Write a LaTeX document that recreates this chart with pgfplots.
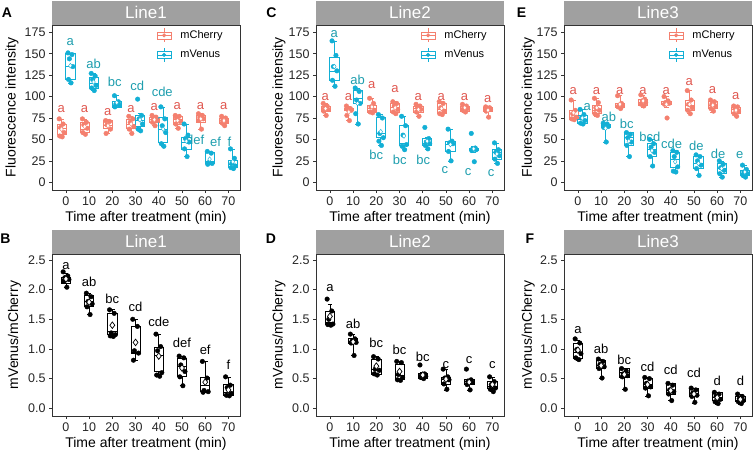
\documentclass[border=0pt]{standalone}
\usepackage{fontspec}
\setmainfont{Liberation Sans}
\usepackage{pgfplots}
\pgfplotsset{compat=1.18}
\usepgfplotslibrary{statistics}

\definecolor{cherry}{HTML}{F4806F}
\definecolor{cherrytxt}{HTML}{E0574F}
\definecolor{venus}{HTML}{12AFD5}
\definecolor{venustxt}{HTML}{1E9EAE}
\definecolor{stripgray}{HTML}{A0A0A0}

% box from prepared stats: colour, position, lw, q1, median, q3, uw
\newcommand{\bx}[7]{\addplot[#1,line width=0.65pt,forget plot,boxplot prepared={draw position=#2,lower whisker=#3,lower quartile=#4,median=#5,upper quartile=#6,upper whisker=#7,box extend=0.4,whisker extend=0.2}] coordinates {};}
\newcommand{\lab}[4]{\node[text=#1,inner sep=0.5pt,font=\fontsize{13}{13}\selectfont] at (axis cs:#2,#3) {#4};}

\pgfplotsset{
  panel/.style={
    scale only axis, width=188pt,
    xmin=-0.6, xmax=7.5,
    xtick={0,...,7}, xticklabels={0,10,20,30,40,50,60,70},
    tick pos=left, tick align=outside, major tick length=3pt,
    axis line style={black!80, line width=0.7pt},
    tick style={black!80, line width=0.6pt},
    /pgf/number format/assume math mode=true,
    tick label style={font=\fontsize{12.5}{12.5}\selectfont, text=black!85},
    label style={font=\fontsize{14}{14}\selectfont},
    xlabel={Time after treatment (min)},
    every axis title shift=0pt,
    title style={at={(0.5,1)}, anchor=south, fill=stripgray, text=white,
      minimum width=188pt, minimum height=24pt, inner sep=0pt,
      font=\fontsize{17}{17}\selectfont},
    boxplot/draw direction=y,
  },
  toprow/.style={
    height=165pt, ymin=-9, ymax=183.5, ytick={0,25,...,175},
    ylabel={Fluorescence intensity},
    xlabel style={at={(axis description cs:0.5,-0.17)}, anchor=center},
    legend style={at={(0.935,0.995)}, anchor=north east, draw=none, fill=none,
      font=\fontsize{11}{11}\selectfont, row sep=5pt, column sep=7pt},
    legend cell align=left,
  },
  botrow/.style={
    height=162pt, ymin=-0.13, ymax=2.6, ytick={0,0.5,...,2.5},
    yticklabel style={/pgf/number format/.cd, fixed, fixed zerofill, precision=1},
    ylabel={mVenus/mCherry},
    xlabel style={at={(axis description cs:0.5,-0.169)}, anchor=center},
  },
  cherryleg/.style={legend image code/.code={
    \draw[cherry,line width=0.6pt] (0pt,-3.5pt) rectangle (14pt,3.5pt)
      (7pt,3.5pt)--(7pt,7pt) (7pt,-3.5pt)--(7pt,-7pt) (0pt,0pt)--(14pt,0pt);
    \fill[cherry] (7pt,0pt) circle (1.8pt);}},
  venusleg/.style={legend image code/.code={
    \draw[venus,line width=0.6pt] (0pt,-3.5pt) rectangle (14pt,3.5pt)
      (7pt,3.5pt)--(7pt,7pt) (7pt,-3.5pt)--(7pt,-7pt) (0pt,0pt)--(14pt,0pt);
    \fill[venus] (7pt,0pt) circle (1.8pt);}},
  dots/.style={only marks, mark=*, mark size=2.3pt, mark options={solid}, forget plot},
  means/.style={only marks, mark=diamond*, mark size=2.4pt, mark options={solid, fill=white}, forget plot},
  bmeans/.style={only marks, mark=diamond*, mark size=3.3pt, mark options={solid, fill=white, draw=black, line width=0.7pt}, forget plot},
}

\begin{document}
\begin{tikzpicture}
\useasboundingbox (0pt,0pt) rectangle (754pt,451pt);

%% ---------------- A : Line1 fluorescence
\begin{axis}[panel, toprow, at={(52pt,261pt)}, anchor=south west, title={Line1},
  ylabel style={at={(axis description cs:-0.213,0.5)}, anchor=center}]
\bx{cherry}{-0.19}{53}{56}{63}{68}{74}
\bx{cherry}{0.81}{56}{58}{62}{70}{74}
\bx{cherry}{1.81}{57}{63}{67}{72}{73}
\bx{cherry}{2.81}{57}{63}{68}{74}{77}
\bx{cherry}{3.81}{66}{70}{73}{76}{78}
\bx{cherry}{4.81}{63}{68}{73}{77}{78}
\bx{cherry}{5.81}{62}{70}{74}{78}{80}
\bx{cherry}{6.81}{66}{69}{72}{75}{77}
\bx{venus}{0.19}{116}{120}{135}{150}{151}
\bx{venus}{1.19}{107}{110}{115}{123}{127}
\bx{venus}{2.19}{88}{88}{90}{94}{101}
\bx{venus}{3.19}{60}{65}{72}{78}{80}
\bx{venus}{4.19}{42}{47}{62}{76}{88}
\bx{venus}{5.19}{30}{39}{47}{53}{68}
\bx{venus}{6.19}{21}{22}{25}{35}{36}
\bx{venus}{7.19}{16}{18}{21}{26}{39}
\addplot[dots, cherry] coordinates {
(-0.29,74) (-0.12,68) (-0.23,64) (-0.08,58) (-0.27,54) (-0.16,53)
(0.71,74) (0.88,70) (0.77,67) (0.92,63) (0.73,58) (0.84,56)
(1.71,72) (1.88,71) (1.77,67) (1.92,62) (1.73,57)
(2.71,77) (2.88,74) (2.77,70) (2.92,65) (2.73,62) (2.84,57)
(3.71,78) (3.88,76) (3.77,74) (3.92,72) (3.73,70) (3.84,66)
(4.71,78) (4.88,77) (4.77,75) (4.92,71) (4.73,68) (4.84,63)
(5.71,80) (5.88,78) (5.77,76) (5.92,74) (5.73,72) (5.84,62)
(6.71,77) (6.88,75) (6.77,73) (6.92,71) (6.73,69) (6.84,66)};
\addplot[dots, venus] coordinates {
(0.09,151) (0.26,149) (0.15,144) (0.30,135) (0.11,120) (0.22,116)
(1.09,127) (1.26,124) (1.15,120) (1.30,113) (1.11,110) (1.22,107)
(2.09,101) (2.26,94) (2.15,91) (2.30,90) (2.11,88)
(3.09,97) (3.26,78) (3.15,74) (3.30,68) (3.11,62) (3.22,60)
(4.09,88) (4.26,74) (4.15,66) (4.30,58) (4.11,45) (4.22,42)
(5.09,68) (5.26,55) (5.15,51) (5.30,47) (5.11,39) (5.22,30)
(6.09,36) (6.26,34) (6.15,23) (6.30,22) (6.11,21)
(7.09,39) (7.26,28) (7.15,22) (7.30,19) (7.11,17) (7.22,16)};
\addplot[means, cherry] coordinates {(-0.19,62) (0.81,65) (1.81,66) (2.81,68) (3.81,73) (4.81,72) (5.81,74) (6.81,72)};
\addplot[means, venus] coordinates {(0.19,136) (1.19,117) (2.19,93) (3.19,73) (4.19,62) (5.19,48) (6.19,27) (7.19,24)};
\addlegendimage{cherryleg}\addlegendentry{mCherry}
\addlegendimage{venusleg}\addlegendentry{mVenus}
\lab{cherrytxt}{-0.2}{86}{a}\lab{cherrytxt}{0.8}{86}{a}\lab{cherrytxt}{1.8}{82}{a}\lab{cherrytxt}{2.8}{86}{a}
\lab{cherrytxt}{3.8}{88}{a}\lab{cherrytxt}{4.8}{89}{a}\lab{cherrytxt}{5.8}{89}{a}\lab{cherrytxt}{6.8}{89}{a}
\lab{venustxt}{0.19}{164}{a}\lab{venustxt}{1.19}{138}{ab}\lab{venustxt}{2.1}{117}{bc}\lab{venustxt}{3.07}{113}{cd}
\lab{venustxt}{4.15}{106}{cde}\lab{venustxt}{5.57}{49}{def}\lab{venustxt}{6.45}{47}{ef}\lab{venustxt}{7.05}{47}{f}
\end{axis}

%% ---------------- C : Line2 fluorescence
\begin{axis}[panel, toprow, at={(316pt,261pt)}, anchor=south west, title={Line2},
  ylabel style={at={(axis description cs:-0.197,0.5)}, anchor=center}]
\bx{cherry}{-0.19}{78}{83}{86}{89}{92}
\bx{cherry}{0.81}{72}{84}{85}{86}{89}
\bx{cherry}{1.81}{81}{82}{86}{90}{98}
\bx{cherry}{2.81}{80}{82}{87}{92}{94}
\bx{cherry}{3.81}{77}{82}{86}{89}{91}
\bx{cherry}{4.81}{79}{80}{85}{92}{94}
\bx{cherry}{5.81}{82}{83}{86}{89}{91}
\bx{cherry}{6.81}{76}{83}{85}{88}{88}
\bx{venus}{0.19}{112}{119}{129}{146}{165}
\bx{venus}{1.19}{68}{92}{98}{107}{110}
\bx{venus}{2.19}{43}{53}{57}{76}{79}
\bx{venus}{3.19}{38}{43}{46}{66}{77}
\bx{venus}{4.19}{39}{43}{46}{51}{52}
\bx{venus}{5.19}{25}{36}{44}{48}{62}
\bx{venus}{6.19}{35}{37}{38}{40}{42}
\bx{venus}{7.19}{22}{27}{35}{38}{46}
\addplot[dots, cherry] coordinates {
(-0.29,92) (-0.12,89) (-0.23,87) (-0.08,85) (-0.27,83) (-0.16,78)
(0.71,89) (0.88,86) (0.77,85) (0.92,84) (0.73,78) (0.84,72)
(1.71,98) (1.88,92) (1.77,88) (1.92,84) (1.73,82) (1.84,81)
(2.71,94) (2.88,92) (2.77,89) (2.92,85) (2.73,82) (2.84,80)
(3.71,91) (3.88,89) (3.77,87) (3.92,85) (3.73,82) (3.84,77)
(4.71,94) (4.88,92) (4.77,87) (4.92,83) (4.73,80) (4.84,79)
(5.71,91) (5.88,89) (5.77,87) (5.92,86) (5.73,84) (5.84,82)
(6.71,88) (6.88,87) (6.77,86) (6.92,85) (6.73,83) (6.84,76)};
\addplot[dots, venus] coordinates {
(0.09,165) (0.26,148) (0.15,135) (0.30,130) (0.11,119) (0.22,112)
(1.09,110) (1.26,106) (1.15,96) (1.30,92) (1.11,80) (1.22,68)
(2.09,79) (2.26,75) (2.15,57) (2.30,52) (2.11,48) (2.22,43)
(3.09,77) (3.26,66) (3.15,55) (3.30,44) (3.11,42) (3.22,38)
(4.09,64) (4.26,51) (4.15,47) (4.30,45) (4.11,43) (4.22,39)
(5.09,62) (5.26,48) (5.15,46) (5.30,45) (5.11,36) (5.22,25)
(6.09,57) (6.26,40) (6.15,39) (6.30,38) (6.11,37) (6.22,24)
(7.09,46) (7.26,38) (7.15,35) (7.30,31) (7.11,27) (7.22,22)};
\addplot[means, cherry] coordinates {(-0.19,86) (0.81,82) (1.81,88) (2.81,87) (3.81,85) (4.81,86) (5.81,87) (6.81,84)};
\addplot[means, venus] coordinates {(0.19,135) (1.19,92) (2.19,59) (3.19,54) (4.19,48) (5.19,44) (6.19,39) (7.19,33)};
\addlegendimage{cherryleg}\addlegendentry{mCherry}
\addlegendimage{venusleg}\addlegendentry{mVenus}
\lab{cherrytxt}{-0.2}{99.6}{a}\lab{cherrytxt}{0.8}{99.6}{a}\lab{cherrytxt}{1.8}{113}{a}\lab{cherrytxt}{2.8}{109}{a}
\lab{cherrytxt}{3.8}{99.6}{a}\lab{cherrytxt}{4.8}{99.6}{a}\lab{cherrytxt}{5.8}{99.6}{a}\lab{cherrytxt}{6.8}{97.6}{a}
\lab{venustxt}{0.19}{173}{a}\lab{venustxt}{1.19}{120}{ab}\lab{venustxt}{2.0}{31.5}{bc}\lab{venustxt}{3.01}{26.4}{bc}
\lab{venustxt}{4.02}{25.7}{bc}\lab{venustxt}{4.95}{14}{c}\lab{venustxt}{5.95}{12}{c}\lab{venustxt}{6.95}{11}{c}
\end{axis}

%% ---------------- E : Line3 fluorescence
\begin{axis}[panel, toprow, at={(564pt,261pt)}, anchor=south west, title={Line3},
  ylabel style={at={(axis description cs:-0.19,0.5)}, anchor=center}]
\bx{cherry}{-0.19}{72}{74}{76}{84}{96}
\bx{cherry}{0.81}{77}{80}{84}{90}{98}
\bx{cherry}{1.81}{86}{88}{89}{92}{101}
\bx{cherry}{2.81}{88}{90}{93}{97}{102}
\bx{cherry}{3.81}{88}{91}{92}{94}{100}
\bx{cherry}{4.81}{80}{84}{90}{96}{107}
\bx{cherry}{5.81}{82}{86}{90}{94}{96}
\bx{cherry}{6.81}{77}{80}{85}{88}{89}
\bx{venus}{0.19}{68}{69}{74}{78}{85}
\bx{venus}{1.19}{47}{64}{66}{68}{69}
\bx{venus}{2.19}{30}{43}{53}{58}{58}
\bx{venus}{3.19}{19}{30}{38}{45}{50}
\bx{venus}{4.19}{12}{18}{27}{35}{37}
\bx{venus}{5.19}{8}{16}{22}{30}{32}
\bx{venus}{6.19}{6}{10}{16}{22}{25}
\bx{venus}{7.19}{6}{8}{11}{14}{20}
\addplot[dots, cherry] coordinates {
(-0.29,96) (-0.12,84) (-0.23,80) (-0.08,76) (-0.27,74) (-0.16,73)
(0.71,98) (0.88,93) (0.77,87) (0.92,84) (0.73,80) (0.84,78)
(1.71,101) (1.88,92) (1.77,90) (1.92,89) (1.73,88) (1.84,86)
(2.71,102) (2.88,97) (2.77,95) (2.92,93) (2.73,91) (2.84,89)
(3.71,100) (3.88,95) (3.77,93) (3.92,92) (3.73,91) (3.84,75)
(4.71,107) (4.88,96) (4.77,91) (4.92,87) (4.73,84) (4.84,80)
(5.71,96) (5.88,94) (5.77,91) (5.92,89) (5.73,86) (5.84,83)
(6.71,89) (6.88,88) (6.77,86) (6.92,83) (6.73,80) (6.84,77)};
\addplot[dots, venus] coordinates {
(0.09,85) (0.26,79) (0.15,75) (0.30,72) (0.11,69) (0.22,68)
(1.09,69) (1.26,68) (1.15,66) (1.30,65) (1.11,64) (1.22,47)
(2.09,58) (2.26,56) (2.15,52) (2.30,47) (2.11,43) (2.22,30)
(3.09,50) (3.26,45) (3.15,41) (3.30,35) (3.11,30) (3.22,19)
(4.09,37) (4.26,35) (4.15,30) (4.30,18) (4.11,13) (4.22,12)
(5.09,32) (5.26,30) (5.15,25) (5.30,20) (5.11,16) (5.22,8)
(6.09,25) (6.26,21) (6.15,17) (6.30,14) (6.11,10) (6.22,6)
(7.09,20) (7.26,15) (7.15,12) (7.30,10) (7.11,8) (7.22,6)};
\addplot[means, cherry] coordinates {(-0.19,81) (0.81,87) (1.81,91) (2.81,95) (3.81,91) (4.81,91) (5.81,90) (6.81,84)};
\addplot[means, venus] coordinates {(0.19,75) (1.19,63) (2.19,48) (3.19,37) (4.19,24) (5.19,22) (6.19,16) (7.19,12)};
\addlegendimage{cherryleg}\addlegendentry{mCherry}
\addlegendimage{venusleg}\addlegendentry{mVenus}
\lab{cherrytxt}{-0.2}{107}{a}\lab{cherrytxt}{0.8}{107}{a}\lab{cherrytxt}{1.8}{107}{a}\lab{cherrytxt}{2.8}{107}{a}
\lab{cherrytxt}{3.8}{107}{a}\lab{cherrytxt}{4.8}{117}{a}\lab{cherrytxt}{5.8}{108}{a}\lab{cherrytxt}{6.8}{101}{a}
\lab{venustxt}{0.4}{88}{a}\lab{venustxt}{1.33}{76}{ab}\lab{venustxt}{2.1}{68}{bc}\lab{venustxt}{3.1}{53}{bcd}
\lab{venustxt}{4.04}{45}{cde}\lab{venustxt}{5.1}{43}{de}\lab{venustxt}{6.04}{33}{de}\lab{venustxt}{6.97}{31.5}{e}
\end{axis}

%% ---------------- B : Line1 ratio
\begin{axis}[panel, botrow, at={(52pt,35pt)}, anchor=south west, title={Line1},
  ylabel style={at={(axis description cs:-0.2,0.5)}, anchor=center}]
\bx{black}{0}{2.04}{2.11}{2.17}{2.20}{2.28}
\bx{black}{1}{1.58}{1.71}{1.80}{1.90}{1.94}
\bx{black}{2}{1.21}{1.24}{1.30}{1.60}{1.66}
\bx{black}{3}{0.81}{0.93}{0.95}{1.38}{1.50}
\bx{black}{4}{0.54}{0.62}{0.90}{1.02}{1.25}
\bx{black}{5}{0.38}{0.54}{0.70}{0.85}{0.88}
\bx{black}{6}{0.27}{0.29}{0.38}{0.53}{0.79}
\bx{black}{7}{0.21}{0.22}{0.27}{0.40}{0.53}
\addplot[dots, black] coordinates {
(-0.12,2.30) (0.08,2.23) (-0.05,2.20) (0.13,2.17) (-0.09,2.14) (0.04,2.04)
(0.88,1.94) (1.08,1.88) (0.95,1.80) (1.13,1.76) (0.91,1.71) (1.04,1.58)
(1.88,1.66) (2.08,1.60) (1.95,1.27) (2.13,1.24) (1.91,1.22) (2.04,1.21)
(2.88,1.50) (3.08,1.38) (2.95,0.97) (3.13,0.93) (2.91,0.81)
(3.88,1.25) (4.08,1.04) (3.95,0.97) (4.13,0.60) (3.91,0.56) (4.04,0.54)
(4.88,0.88) (5.08,0.85) (4.95,0.73) (5.13,0.62) (4.91,0.53) (5.04,0.38)
(5.88,0.79) (6.08,0.51) (5.95,0.30) (6.13,0.28) (5.91,0.27)
(6.88,0.53) (7.08,0.39) (6.95,0.35) (7.13,0.25) (6.91,0.22) (7.04,0.21)};
\addplot[bmeans] coordinates {(0,2.18) (1,1.79) (2,1.40) (3,1.11) (4,0.88) (5,0.68) (6,0.44) (7,0.31)};
\lab{black}{0}{2.39}{a}\lab{black}{1}{2.13}{ab}\lab{black}{2}{1.84}{bc}\lab{black}{3}{1.71}{cd}
\lab{black}{4}{1.46}{cde}\lab{black}{5}{1.10}{def}\lab{black}{6}{0.98}{ef}\lab{black}{7}{0.73}{f}
\end{axis}

%% ---------------- D : Line2 ratio
\begin{axis}[panel, botrow, at={(316pt,35pt)}, anchor=south west, title={Line2},
  ylabel style={at={(axis description cs:-0.197,0.5)}, anchor=center}]
\bx{black}{0}{1.40}{1.42}{1.45}{1.64}{1.75}
\bx{black}{1}{0.89}{1.10}{1.13}{1.18}{1.25}
\bx{black}{2}{0.56}{0.58}{0.65}{0.83}{0.87}
\bx{black}{3}{0.47}{0.48}{0.55}{0.74}{0.79}
\bx{black}{4}{0.49}{0.51}{0.55}{0.59}{0.60}
\bx{black}{5}{0.31}{0.40}{0.49}{0.53}{0.66}
\bx{black}{6}{0.31}{0.40}{0.45}{0.48}{0.49}
\bx{black}{7}{0.28}{0.33}{0.37}{0.46}{0.53}
\addplot[dots, black] coordinates {
(-0.12,1.84) (0.08,1.64) (-0.05,1.50) (0.13,1.42) (-0.09,1.41) (0.04,1.40)
(0.88,1.25) (1.08,1.17) (0.95,1.13) (1.13,1.11) (0.91,1.10) (1.04,0.89)
(1.88,0.87) (2.08,0.83) (1.95,0.66) (2.13,0.64) (1.91,0.58) (2.04,0.56)
(2.88,0.79) (3.08,0.77) (2.95,0.57) (3.13,0.52) (2.91,0.48) (3.04,0.47)
(3.88,0.73) (4.08,0.58) (3.95,0.56) (4.13,0.54) (3.91,0.52) (4.04,0.50)
(4.88,0.66) (5.08,0.53) (4.95,0.51) (5.13,0.48) (4.91,0.41) (5.04,0.32)
(5.88,0.66) (6.08,0.48) (5.95,0.46) (6.13,0.44) (5.91,0.40) (6.04,0.31)
(6.88,0.53) (7.08,0.45) (6.95,0.40) (7.13,0.34) (6.91,0.32) (7.04,0.28)};
\addplot[bmeans] coordinates {(0,1.55) (1,1.12) (2,0.71) (3,0.62) (4,0.56) (5,0.49) (6,0.44) (7,0.40)};
\lab{black}{0}{2.03}{a}\lab{black}{1}{1.43}{ab}\lab{black}{2}{1.10}{bc}\lab{black}{3}{0.98}{bc}
\lab{black}{4}{0.87}{bc}\lab{black}{5}{0.73}{c}\lab{black}{6}{0.81}{c}\lab{black}{7}{0.73}{c}
\end{axis}

%% ---------------- F : Line3 ratio
\begin{axis}[panel, botrow, at={(564pt,35pt)}, anchor=south west, title={Line3},
  ylabel style={at={(axis description cs:-0.19,0.5)}, anchor=center}]
\bx{black}{0}{0.81}{0.84}{0.95}{1.10}{1.15}
\bx{black}{1}{0.51}{0.67}{0.73}{0.81}{0.83}
\bx{black}{2}{0.32}{0.53}{0.60}{0.67}{0.67}
\bx{black}{3}{0.20}{0.34}{0.40}{0.51}{0.52}
\bx{black}{4}{0.13}{0.24}{0.30}{0.42}{0.42}
\bx{black}{5}{0.09}{0.20}{0.25}{0.34}{0.34}
\bx{black}{6}{0.07}{0.14}{0.18}{0.27}{0.27}
\bx{black}{7}{0.07}{0.11}{0.14}{0.20}{0.24}
\addplot[dots, black] coordinates {
(-0.12,1.17) (0.08,1.10) (-0.05,0.99) (0.13,0.92) (-0.09,0.85) (0.04,0.82)
(0.88,0.83) (1.08,0.79) (0.95,0.74) (1.13,0.70) (0.91,0.67) (1.04,0.51)
(1.88,0.67) (2.08,0.63) (1.95,0.58) (2.13,0.55) (1.91,0.53) (2.04,0.32)
(2.88,0.52) (3.08,0.50) (2.95,0.42) (3.13,0.36) (2.91,0.34) (3.04,0.21)
(3.88,0.42) (4.08,0.39) (3.95,0.31) (4.13,0.28) (3.91,0.24) (4.04,0.13)
(4.88,0.34) (5.08,0.31) (4.95,0.26) (5.13,0.22) (4.91,0.20) (5.04,0.10)
(5.88,0.27) (6.08,0.24) (5.95,0.20) (6.13,0.15) (5.91,0.11) (6.04,0.08)
(6.88,0.24) (7.08,0.20) (6.95,0.16) (7.13,0.13) (6.91,0.11) (7.04,0.08)};
\addplot[bmeans] coordinates {(0,0.98) (1,0.72) (2,0.57) (3,0.40) (4,0.30) (5,0.24) (6,0.18) (7,0.15)};
\lab{black}{0}{1.32}{a}\lab{black}{1}{1.01}{ab}\lab{black}{2}{0.81}{bc}\lab{black}{3}{0.70}{cd}
\lab{black}{4}{0.65}{cd}\lab{black}{5}{0.59}{cd}\lab{black}{6}{0.46}{d}\lab{black}{7}{0.46}{d}
\end{axis}

%% panel letters
\node[font=\bfseries\fontsize{14}{14}\selectfont] at (7pt,438.5pt) {A};
\node[font=\bfseries\fontsize{14}{14}\selectfont] at (5.5pt,212pt) {B};
\node[font=\bfseries\fontsize{14}{14}\selectfont] at (271.5pt,438.5pt) {C};
\node[font=\bfseries\fontsize{14}{14}\selectfont] at (271pt,212pt) {D};
\node[font=\bfseries\fontsize{14}{14}\selectfont] at (521.5pt,438.5pt) {E};
\node[font=\bfseries\fontsize{14}{14}\selectfont] at (530pt,212pt) {F};
\end{tikzpicture}
\end{document}
